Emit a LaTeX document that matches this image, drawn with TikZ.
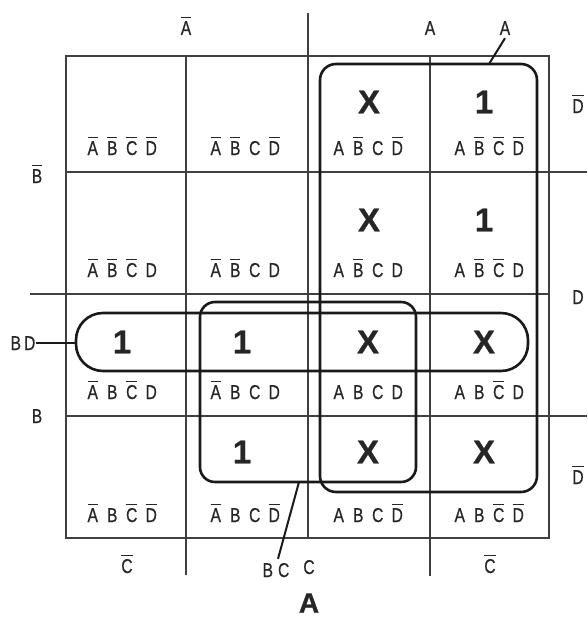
\documentclass[tikz,border=0pt]{standalone}
\usepackage{fontspec}
\setmainfont{Liberation Sans}
\newfontfamily\labfont[FakeStretch=0.78,FakeBold=0.6]{Liberation Sans}
\newfontfamily\symfont[FakeBold=0.8]{Liberation Sans Bold}
\newcommand\nb[1]{\leavevmode\setbox0\hbox{#1}\rlap{\raisebox{\dimexpr\ht0+2.8pt\relax}{\rule{\wd0}{1.7pt}}}\box0}
\newcommand\cl[4]{\makebox[19.5pt]{#1}\makebox[19.5pt]{#2}\makebox[19.5pt]{#3}\makebox[19.5pt]{#4}}
\tikzset{
 cellab/.style={anchor=base, inner sep=0pt, font=\labfont\fontsize{20}{22}\selectfont, text=black!85},
 sym/.style={inner sep=0pt, font=\symfont\fontsize{33}{36}\selectfont, text=black!85},
 grp/.style={draw=black!90, line width=2.6pt, inner sep=0pt, outer sep=0pt},
 gridl/.style={draw=black!75, line width=1.3pt},
 lead/.style={draw=black!90, line width=2pt},
}
\begin{document}
\begin{tikzpicture}[x=1pt,y=-1pt]
\useasboundingbox (0,0) rectangle (587,618);
% grid
\draw[gridl] (66,56) rectangle (549,538);
\draw[gridl] (186,56) -- (186,575);
\draw[gridl] (308,13) -- (308,538);
\draw[gridl] (430,56) -- (430,576);
\draw[gridl] (66,172) -- (587,172);
\draw[gridl] (30,294) -- (549,294);
\draw[gridl] (66,416) -- (587,416);
% groups
\node[grp, rounded corners=16pt, minimum width=217pt, minimum height=428pt] (gA) at (428.5,278) {};
\node[grp, rounded corners=15pt, minimum width=216pt, minimum height=180pt] (gBC) at (308,392) {};
\node[grp, rounded corners=27pt, minimum width=452pt, minimum height=58pt] (gBD) at (302,342) {};
% cell labels
\node[cellab] (c11) at (122,155) {\cl{\nb A}{\nb B}{\nb C}{\nb D}};
\node[cellab] (c12) at (245,155) {\cl{\nb A}{\nb B}{C}{\nb D}};
\node[cellab] (c13) at (368,155) {\cl{A}{\nb B}{C}{\nb D}};
\node[cellab] (c14) at (489,155) {\cl{A}{\nb B}{\nb C}{\nb D}};
\node[cellab] (c21) at (122,277) {\cl{\nb A}{\nb B}{\nb C}{D}};
\node[cellab] (c22) at (245,277) {\cl{\nb A}{\nb B}{C}{D}};
\node[cellab] (c23) at (368,277) {\cl{A}{\nb B}{C}{D}};
\node[cellab] (c24) at (489,277) {\cl{A}{\nb B}{\nb C}{D}};
\node[cellab] (c31) at (122,399) {\cl{\nb A}{B}{\nb C}{D}};
\node[cellab] (c32) at (245,399) {\cl{\nb A}{B}{C}{D}};
\node[cellab] (c33) at (368,399) {\cl{A}{B}{C}{D}};
\node[cellab] (c34) at (489,399) {\cl{A}{B}{\nb C}{D}};
\node[cellab] (c41) at (122,522) {\cl{\nb A}{B}{\nb C}{\nb D}};
\node[cellab] (c42) at (245,522) {\cl{\nb A}{B}{C}{\nb D}};
\node[cellab] (c43) at (368,522) {\cl{A}{B}{C}{\nb D}};
\node[cellab] (c44) at (489,522) {\cl{A}{B}{\nb C}{\nb D}};
% cell values
\node[sym] (s13) at (369,102) {X};
\node[sym] (s14) at (484,102) {1};
\node[sym] (s23) at (369,220) {X};
\node[sym] (s24) at (484,220) {1};
\node[sym] (s31) at (122,342) {1};
\node[sym] (s32) at (242,342) {1};
\node[sym] (s33) at (368,342) {X};
\node[sym] (s34) at (484,342) {X};
\node[sym] (s42) at (242,452) {1};
\node[sym] (s43) at (368,452) {X};
\node[sym] (s44) at (484,452) {X};
% side labels
\node[cellab] (tAb) at (186,35) {\nb A};
\node[cellab] (tA) at (430,35) {A};
\node[cellab] (lAg) at (505,35) {A};
\node[cellab] (lBb) at (37,183) {\nb B};
\node[cellab] (lB) at (37,423) {B};
\node[cellab] (lBD) at (23,350) {B\hspace{3pt}D};
\node[cellab] (rD1) at (578,113) {\nb D};
\node[cellab] (rD2) at (578,304) {D};
\node[cellab] (rD3) at (578,484) {\nb D};
\node[cellab] (bC1) at (127,573) {\nb C};
\node[cellab] (bC2) at (309,574) {C};
\node[cellab] (bC3) at (490,573) {\nb C};
\node[cellab] (lBC) at (276,577) {B\hspace{5pt}C};
\node[inner sep=0pt, font=\symfont\fontsize{28}{30}\selectfont, text=black!85] (cap) at (309,603) {A};
% leaders
\coordinate (pA) at (489,64);
\draw[lead] ([yshift=-3pt]lAg.south) -- (pA);
\draw[lead] (lBD.east) -- (lBD.east -| gBD.west);
\coordinate (pBC) at (299,482);
\draw[lead] ([xshift=2pt,yshift=4pt]lBC.north) -- (pBC);
\end{tikzpicture}
\end{document}
